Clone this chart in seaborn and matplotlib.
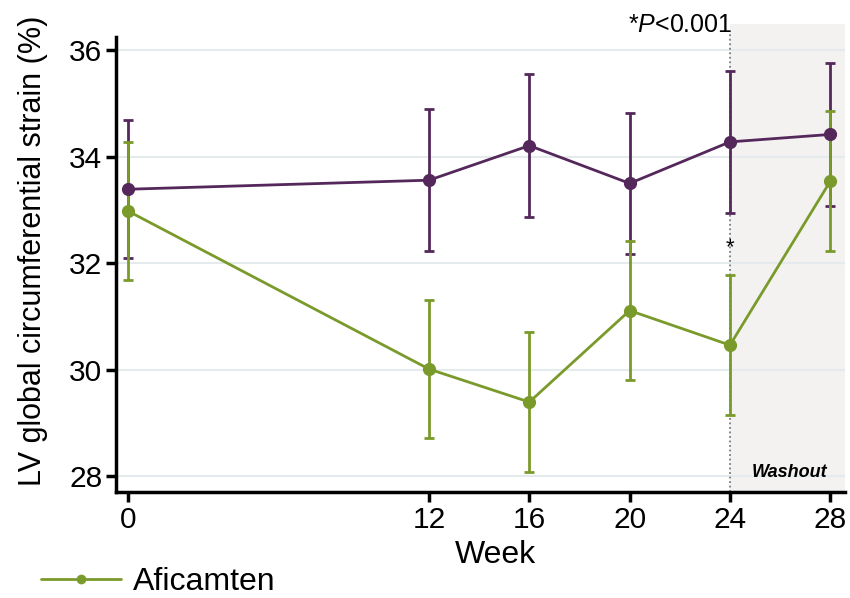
import numpy as np
import pandas as pd
import matplotlib
matplotlib.use("Agg")
import matplotlib.pyplot as plt
import seaborn as sns
from matplotlib.lines import Line2D
from matplotlib.patches import Rectangle

# Data: LV global circumferential strain (%) by week, mean and error half-width
weeks = [0, 12, 16, 20, 24, 28]
placebo_mean = [33.39, 33.56, 34.21, 33.50, 34.28, 34.42]
placebo_err = [1.30, 1.33, 1.35, 1.32, 1.34, 1.35]
aficamten_mean = [32.98, 30.01, 29.39, 31.11, 30.46, 33.54]
aficamten_err = [1.29, 1.30, 1.32, 1.31, 1.32, 1.32]
groups = ["Placebo", "Aficamten"]
y_ticks = [28, 30, 32, 34, 36]

purple = "#55285c"
green = "#7a9a2b"

sns.set_theme(style="white")
plt.rcParams["font.family"] = ["Liberation Sans", "DejaVu Sans"]
plt.rcParams["mathtext.fontset"] = "custom"
plt.rcParams["mathtext.rm"] = "Liberation Sans"
plt.rcParams["mathtext.it"] = "Liberation Sans:italic"
plt.rcParams["text.color"] = "black"
plt.rcParams["axes.labelcolor"] = "black"
plt.rcParams["xtick.color"] = "black"
plt.rcParams["ytick.color"] = "black"

df = pd.DataFrame({
    "Week": weeks * 2,
    "Strain": placebo_mean + aficamten_mean,
    "Err": placebo_err + aficamten_err,
    "Group": [groups[0]] * len(weeks) + [groups[1]] * len(weeks),
})

fig = plt.figure(figsize=(8.5, 5.98), dpi=100)
ax = fig.add_axes([0.1365, 0.1773, 0.858, 0.7607])

xmin, xmax = -0.48, 28.6
ymin, ymax = 27.7, 36.25

# Washout period shading
ax.add_patch(Rectangle((24, ymin), xmax - 24, 36.5 - ymin, facecolor="#f3f2f1",
                       edgecolor="none", zorder=0, clip_on=False))

for yv in y_ticks:
    ax.axhline(yv, color="#e5ebed", lw=1.5, zorder=0.5)

palette = {groups[0]: purple, groups[1]: green}
for g in groups:
    sub = df[df["Group"] == g]
    ax.errorbar(sub["Week"], sub["Strain"], yerr=sub["Err"], fmt="none",
                ecolor=palette[g], elinewidth=2.0, capsize=3.5, capthick=2.0,
                zorder=3 if g == groups[1] else 2)

sns.lineplot(data=df, x="Week", y="Strain", hue="Group", palette=palette,
             marker="o", markersize=9.5, markeredgewidth=0, linewidth=2.0,
             errorbar=None, legend=False, ax=ax, zorder=4)

# Dotted marker for the end of treatment
ax.plot([24, 24], [ymin, 36.3], color="#7a7a7a", lw=1.3, ls=(0, (1, 1.5)),
        zorder=1, clip_on=False)

ax.text(24.1, 36.26, r"*$\mathit{P}$<0.001", ha="right", va="bottom",
        fontsize=18)
ax.text(24, 32.1, "*", ha="center", va="bottom", fontsize=16)
ax.text(27.9, 28.06, "Washout", ha="right", va="center", fontsize=13,
        fontweight="bold", fontstyle="italic")

ax.set_xlim(xmin, xmax)
ax.set_ylim(ymin, ymax)
ax.set_xticks(weeks)
ax.set_yticks(y_ticks)
ax.tick_params(axis="both", labelsize=21.5, width=2.5, length=7,
               left=True, bottom=True, direction="out", pad=3)
ax.set_xlabel("Week", fontsize=23)
ax.set_ylabel("LV global circumferential strain (%)", fontsize=22)
ax.xaxis.set_label_coords(0.52, -0.105)
ax.yaxis.set_label_coords(-0.093, 0.53)

for side in ["top", "right"]:
    ax.spines[side].set_visible(False)
for side in ["left", "bottom"]:
    ax.spines[side].set_color("black")
    ax.spines[side].set_linewidth(2.5)

handle = Line2D([], [], color=green, lw=2.0, marker="o", markersize=7,
                markeredgewidth=0)
fig.legend([handle], ["Aficamten"], loc="lower left",
           bbox_to_anchor=(0.014, -0.047), frameon=False, fontsize=23,
           handlelength=2.5, handletextpad=0.38)

fig.savefig("out.png", dpi=100)
